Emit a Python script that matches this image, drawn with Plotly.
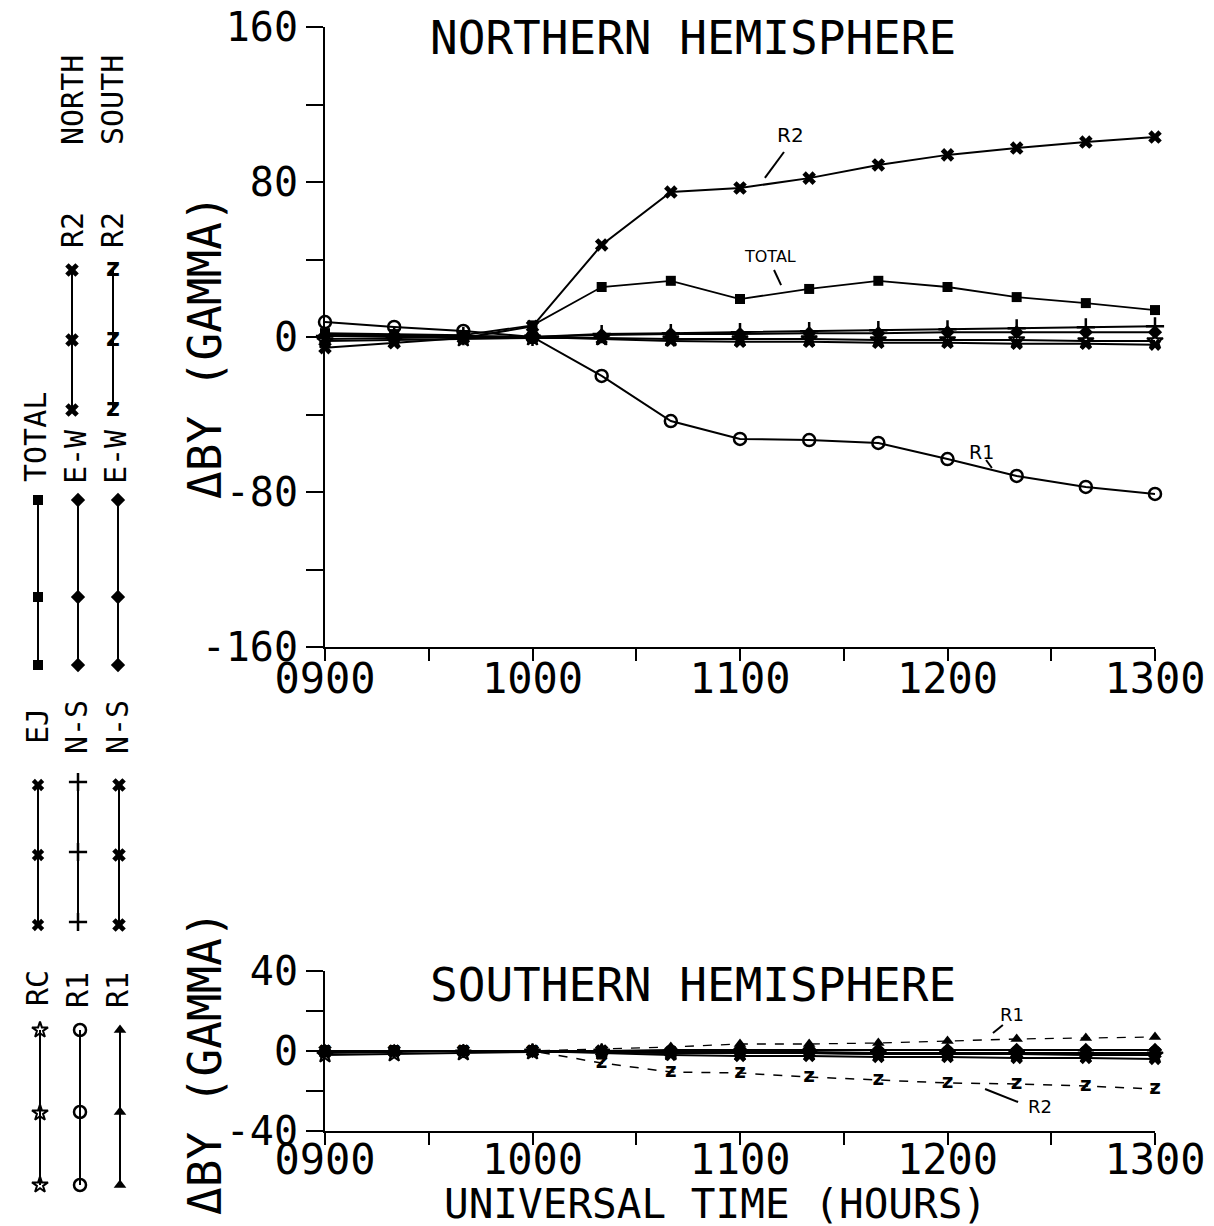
import plotly.graph_objects as go

W, H = 1214, 1226
MONO = "DejaVu Sans Mono"
SANS = "DejaVu Sans"

# ---------------- data ----------------
time_labels = ["0900", "0920", "0940", "1000", "1020", "1040", "1100",
               "1120", "1140", "1200", "1220", "1240", "1300"]
hours = [int(t[:2]) + int(t[2:]) / 60 for t in time_labels]

# Northern hemisphere (gamma)
total_n = [2.0, 1.5, 1.0, 6.0, 25.8, 29.0, 19.6, 24.8, 29.0, 25.8, 20.6, 17.5, 13.9]
r2_n = [-5.5, -3.0, -0.5, 5.5, 47.5, 74.8, 76.9, 82.0, 88.8, 94.0, 97.5, 100.6, 103.2]
r1_n = [7.7, 5.2, 3.1, 0.0, -20.1, -43.4, -52.6, -53.2, -54.7, -63.0, -71.7, -77.4, -81.0]
ew_n = [1.0, 1.0, 0.5, 0.0, 1.0, 1.5, 1.5, 2.0, 2.0, 2.5, 2.5, 2.5, 2.5]
ns_n = [0.5, 0.5, 0.5, 0.0, 1.5, 2.0, 2.5, 3.0, 3.5, 4.0, 4.5, 5.0, 5.5]
ej = [-1.0, -0.5, 0.0, 0.0, -1.0, -2.0, -2.5, -2.5, -3.0, -3.0, -3.5, -3.5, -4.0]
rc = [-2.0, -1.5, -1.0, -0.5, -0.5, -1.0, -1.0, -1.0, -1.5, -1.5, -1.5, -2.0, -2.0]

# Southern hemisphere (gamma)
total_s = [0.0, 0.0, 0.0, 0.0, -0.5, -1.0, -1.0, -1.0, -1.5, -1.5, -1.0, -1.0, -1.0]
r1_s = [0.0, 0.0, 0.0, 0.0, 1.0, 2.0, 3.5, 3.5, 4.0, 5.0, 6.0, 6.5, 7.0]
r2_s = [0.0, 0.0, 0.0, 0.0, -6.0, -10.5, -11.0, -13.0, -14.5, -16.0, -16.5, -17.5, -19.0]
ew_s = [0.0, 0.0, 0.0, 0.0, 0.0, 0.5, 0.5, 0.5, 0.5, 0.5, 0.5, 0.5, 0.5]
ns_s = [0.0, 0.0, 0.0, 0.0, 0.0, -0.5, -0.5, -0.5, -1.0, -1.0, -1.0, -1.0, -1.0]

x_tickvals = [9, 9.5, 10, 10.5, 11, 11.5, 12, 12.5, 13]
x_ticktext = ["0900", "", "1000", "", "1100", "", "1200", "", "1300"]
yn_tickvals = [-160, -120, -80, -40, 0, 40, 80, 120, 160]
yn_ticktext = ["-160", "", "-80", "", "0", "", "80", "", "160"]
ys_tickvals = [-40, -20, 0, 20, 40]
ys_ticktext = ["-40", "", "0", "", "40"]

# ---------------- styles ----------------
STY = {
    "TOTAL": dict(symbol="square", size=10),
    "EJ": dict(symbol="x", size=11),
    "RC": dict(symbol="star-open", size=12, line=dict(width=2, color="black")),
    "EWN": dict(symbol="diamond", size=11),
    "NSN": dict(symbol="cross-thin-open", size=13, line=dict(width=2.5, color="black")),
    "R1N": dict(symbol="circle-open", size=12, line=dict(width=2.5, color="black")),
    "R2N": dict(symbol="x", size=12),
    "EWS": dict(symbol="diamond", size=11),
    "NSS": dict(symbol="x", size=12),
    "R1S": dict(symbol="triangle-up", size=11),
}

fig = go.Figure()


def add(x, y, key, xa, ya, dash="solid", width=2):
    m = dict(color="black")
    m.update(STY[key])
    fig.add_trace(go.Scatter(x=x, y=y, mode="lines+markers", xaxis=xa, yaxis=ya,
                             line=dict(color="black", width=width, dash=dash),
                             marker=m, cliponaxis=False, showlegend=False))


def add_z(x, y, xa, ya, dash="solid", width=2, size=20):
    fig.add_trace(go.Scatter(x=x, y=y, mode="lines+text", xaxis=xa, yaxis=ya,
                             text=["<b>z</b>"] * len(x), textposition="middle center",
                             textfont=dict(family=SANS, size=size, color="black"),
                             line=dict(color="black", width=width, dash=dash),
                             cliponaxis=False, showlegend=False))


# North panel
add(hours, ej, "EJ", "x", "y")
add(hours, rc, "RC", "x", "y")
add(hours, ew_n, "EWN", "x", "y")
add(hours, ns_n, "NSN", "x", "y")
add(hours, total_n, "TOTAL", "x", "y", width=1.8)
add(hours, r1_n, "R1N", "x", "y")
add(hours, r2_n, "R2N", "x", "y")

# South panel
add(hours, ej, "EJ", "x2", "y2")
add(hours, rc, "RC", "x2", "y2")
add(hours, ew_s, "EWS", "x2", "y2")
add(hours, ns_s, "NSS", "x2", "y2")
add(hours, total_s, "TOTAL", "x2", "y2")
add(hours, r1_s, "R1S", "x2", "y2", dash="dash", width=1.3)
add_z(hours, r2_s, "x2", "y2", dash="dash", width=1.5)

# ---------------- custom rotated legend (x3/y3 in pixel-like units) ----------------
legend_items = [
    # key, column x, marker y positions
    ("R2N", 72, [270, 340, 410]),
    ("R2S", 113, [270, 340, 410]),
    ("TOTAL", 38, [500, 597, 665]),
    ("EWN", 78, [500, 597, 665]),
    ("EWS", 118, [500, 597, 665]),
    ("EJ", 38, [785, 855, 925]),
    ("NSN", 78, [782, 852, 922]),
    ("NSS", 119, [785, 855, 925]),
    ("RC", 40, [1030, 1113, 1185]),
    ("R1N", 80, [1030, 1112, 1185]),
    ("R1S", 120, [1030, 1112, 1185]),
]
for key, lx, lys in legend_items:
    if key == "R2S":
        add_z([lx] * len(lys), lys, "x3", "y3", size=24)
    else:
        add([lx] * len(lys), lys, key, "x3", "y3")

legend_labels = [
    ("NORTH", 72, 100), ("SOUTH", 112, 100),
    ("R2", 72, 230), ("R2", 112, 230),
    ("TOTAL", 35, 437), ("E-W", 75, 457), ("E-W", 115, 457),
    ("EJ", 37, 726), ("N-S", 76, 727), ("N-S", 117, 727),
    ("RC", 37, 988), ("R1", 77, 990), ("R1", 117, 990),
]
annotations = []
for txt, lx, ly in legend_labels:
    annotations.append(dict(text=txt, x=lx, y=ly, xref="x3", yref="y3", showarrow=False,
                            textangle=-90, xanchor="center", yanchor="middle",
                            font=dict(family=MONO, size=30, color="black")))

# titles
annotations += [
    dict(text="NORTHERN HEMISPHERE", x=693 / W, y=1 - 38 / H, xref="paper", yref="paper",
         showarrow=False, xanchor="center", yanchor="middle",
         font=dict(family=MONO, size=46, color="black")),
    dict(text="SOUTHERN HEMISPHERE", x=693 / W, y=1 - 985 / H, xref="paper", yref="paper",
         showarrow=False, xanchor="center", yanchor="middle",
         font=dict(family=MONO, size=46, color="black")),
    dict(text="ΔBY (GAMMA)", x=205 / W, y=1 - 347 / H, xref="paper", yref="paper",
         showarrow=False, textangle=-90, xanchor="center", yanchor="middle",
         font=dict(family=MONO, size=46, color="black")),
    dict(text="ΔBY (GAMMA)", x=205 / W, y=1 - 1063 / H, xref="paper", yref="paper",
         showarrow=False, textangle=-90, xanchor="center", yanchor="middle",
         font=dict(family=MONO, size=46, color="black")),
    dict(text="UNIVERSAL TIME (HOURS)", x=715 / W, y=1 - 1204 / H, xref="paper", yref="paper",
         showarrow=False, xanchor="center", yanchor="middle",
         font=dict(family=MONO, size=41, color="black")),
]

# curve labels with leader lines (data coordinates)
curve_labels = [
    ("R2", 11.241, 104.3, "x", "y", 20, (11.120, 82.1, 11.212, 95.5)),
    ("TOTAL", 11.145, 41.3, "x", "y", 16, (11.164, 34.6, 11.198, 26.8)),
    ("R1", 12.166, -59.4, "x", "y", 19, (12.186, -63.5, 12.214, -67.6)),
    ("R1", 12.311, 18.5, "x2", "y2", 18, (12.219, 9.0, 12.267, 13.0)),
    ("R2", 12.446, -27.5, "x2", "y2", 18, (12.181, -19.0, 12.340, -25.5)),
]
shapes = []
for txt, tx, ty, xr, yr, fs, (x0, y0, x1, y1) in curve_labels:
    annotations.append(dict(text=txt, x=tx, y=ty, xref=xr, yref=yr, showarrow=False,
                            xanchor="center", yanchor="middle",
                            font=dict(family=SANS, size=fs, color="black")))
    shapes.append(dict(type="line", x0=x0, y0=y0, x1=x1, y1=y1, xref=xr, yref=yr,
                       line=dict(color="black", width=2)))

xdom = [325 / W, 1155 / W]
axis_common = dict(showline=True, linecolor="black", linewidth=2, ticks="outside",
                   tickcolor="black", tickwidth=2, showgrid=False, zeroline=False,
                   mirror=False, automargin=False)

fig.update_layout(
    width=W, height=H,
    margin=dict(l=0, r=0, t=0, b=0, autoexpand=False),
    paper_bgcolor="white", plot_bgcolor="white",
    showlegend=False,
    font=dict(family=MONO, color="black"),
    xaxis=dict(domain=xdom, range=[9, 13], anchor="y", tickvals=x_tickvals,
               ticktext=x_ticktext, ticklen=12, ticklabelstandoff=-18,
               tickfont=dict(size=42), **axis_common),
    yaxis=dict(domain=[1 - 647 / H, 1 - 27 / H], range=[-160, 160], anchor="x",
               tickvals=yn_tickvals, ticktext=yn_ticktext, ticklen=17,
               tickfont=dict(size=40), **axis_common),
    xaxis2=dict(domain=xdom, range=[9, 13], anchor="y2", tickvals=x_tickvals,
                ticktext=x_ticktext, ticklen=12, ticklabelstandoff=-21,
                tickfont=dict(size=42), **axis_common),
    yaxis2=dict(domain=[1 - 1131 / H, 1 - 971 / H], range=[-40, 40], anchor="x2",
                tickvals=ys_tickvals, ticktext=ys_ticktext, ticklen=17,
                tickfont=dict(size=40), **axis_common),
    xaxis3=dict(domain=[0, 160 / W], range=[0, 160], anchor="y3", visible=False,
                automargin=False),
    yaxis3=dict(domain=[0, 1], range=[H, 0], anchor="x3", visible=False,
                automargin=False),
    annotations=annotations,
    shapes=shapes,
)

fig.write_html(
    "out.html",
    config={"displayModeBar": False},
    post_script="document.body.style.margin='0';document.body.style.overflow='hidden';",
)
